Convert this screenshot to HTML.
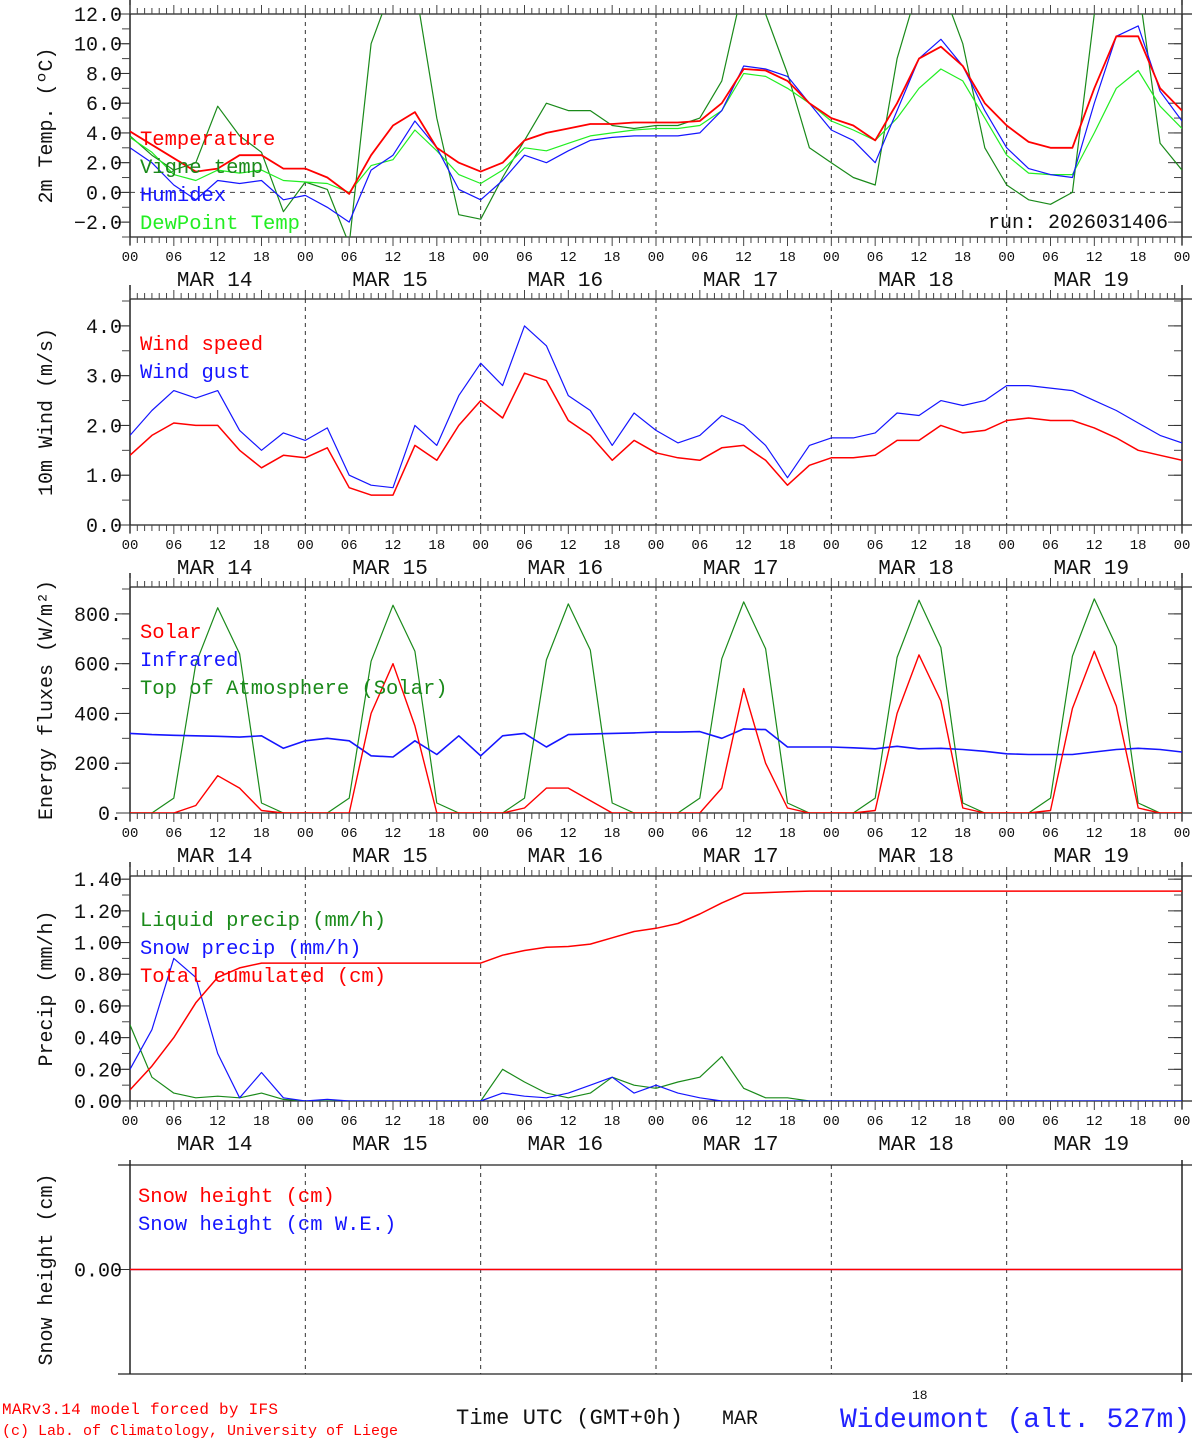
<!DOCTYPE html>
<html><head><meta charset="utf-8"><style>
html,body{margin:0;padding:0;background:#fff;}
svg text{font-family:"Liberation Mono","DejaVu Sans Mono",monospace;}
</style></head><body>
<svg id="chart" width="1194" height="1440" viewBox="0 0 1194 1440" xmlns="http://www.w3.org/2000/svg">
<text x="2" y="1414" font-size="16" fill="#f00" textLength="276">MARv3.14 model forced by IFS</text>
<text x="2" y="1435" font-size="15" fill="#f00" textLength="396">(c) Lab. of Climatology, University of Liege</text>
<text x="456" y="1424" font-size="22" fill="#111" textLength="227">Time UTC (GMT+0h)</text>
<text x="722" y="1424" font-size="20" fill="#111">MAR</text>
<text x="912" y="1399" font-size="13" fill="#111">18</text>
<text x="840" y="1427" font-size="28" fill="#22f" textLength="350">Wideumont (alt. 527m)</text>
</svg>
<script>
// ---------- data (3-hourly, hours 0..144 from MAR 14 00 UTC) ----------
const hours = Array.from({length:49},(_,i)=>i*3);
const dayLabels = ["MAR 14","MAR 15","MAR 16","MAR 17","MAR 18","MAR 19"];
const hourLabels = ["00","06","12","18"];
const temperature = [4.1,3.2,2.3,1.4,1.6,2.5,2.5,1.6,1.6,1.0,-0.1,2.5,4.5,5.4,3.0,2.0,1.4,2.0,3.5,4.0,4.3,4.6,4.6,4.7,4.7,4.7,4.8,6.0,8.3,8.2,7.5,6.0,5.0,4.5,3.5,6.0,9.0,9.8,8.5,6.0,4.5,3.4,3.0,3.0,7.0,10.5,10.5,7.0,5.5];
const vigneTemp = [3.8,2.5,1.5,2.0,5.8,3.8,2.7,-1.3,0.7,0.2,-3.5,10,14,14,5,-1.5,-1.8,1.0,3.5,6.0,5.5,5.5,4.5,4.3,4.5,4.5,5.0,7.5,14,12,8,3,2.0,1.0,0.5,9,14,14,10,3.0,0.5,-0.5,-0.8,0,12,14,14,3.3,1.5];
const humidex = [3.0,2.0,0.5,-0.5,0.8,0.6,0.8,-0.5,-0.2,-1.0,-2.0,1.5,2.5,4.8,3.0,0.2,-0.5,0.8,2.5,2.0,2.8,3.5,3.7,3.8,3.8,3.8,4.0,5.5,8.5,8.3,7.8,6.0,4.2,3.5,2.0,5.5,9.0,10.3,8.5,5.5,3.0,1.6,1.2,1.0,6.0,10.5,11.2,6.8,4.8];
const dewPoint = [3.7,2.7,1.2,0.8,1.5,1.3,1.5,0.8,0.7,0.6,0.0,1.8,2.2,4.2,2.8,1.2,0.6,1.5,3.0,2.8,3.3,3.8,4.0,4.2,4.3,4.3,4.5,5.5,8.0,7.8,7.0,6.0,4.8,4.2,3.5,5.0,7.0,8.3,7.5,5.0,2.5,1.3,1.2,1.2,4.0,7.0,8.2,5.8,4.3];
const windSpeed = [1.4,1.8,2.05,2.0,2.0,1.5,1.15,1.4,1.35,1.55,0.75,0.6,0.6,1.6,1.3,2.0,2.5,2.15,3.05,2.9,2.1,1.8,1.3,1.7,1.45,1.35,1.3,1.55,1.6,1.3,0.8,1.2,1.35,1.35,1.4,1.7,1.7,2.0,1.85,1.9,2.1,2.15,2.1,2.1,1.95,1.75,1.5,1.4,1.3];
const windGust = [1.8,2.3,2.7,2.55,2.7,1.9,1.5,1.85,1.7,1.95,1.0,0.8,0.75,2.0,1.6,2.6,3.25,2.8,4.0,3.6,2.6,2.3,1.6,2.25,1.9,1.65,1.8,2.2,2.0,1.6,0.95,1.6,1.75,1.75,1.85,2.25,2.2,2.5,2.4,2.5,2.8,2.8,2.75,2.7,2.5,2.3,2.05,1.8,1.65];
const solar = [0,0,0,30,150,100,10,0, 0,0,0,400,600,350,0,0, 0,0,20,100,100,50,0,0, 0,0,0,100,500,200,20,0, 0,0,10,400,635,450,20,0, 0,0,10,420,650,430,20,0, 0];
const infrared = [320,315,312,310,308,305,310,260,290,300,290,230,225,290,235,310,230,310,320,265,315,318,320,322,325,325,327,300,338,335,265,265,265,262,258,268,258,260,255,248,238,235,235,235,245,255,260,255,245];
const toaSolar = [0,0,60,600,825,640,40,0, 0,0,60,610,835,650,40,0, 0,0,60,615,840,655,40,0, 0,0,60,620,848,660,40,0, 0,0,60,625,855,665,40,0, 0,0,60,630,860,670,40,0, 0];
const liquidPrecip = [0.48,0.15,0.05,0.02,0.03,0.02,0.05,0.01,0,0,0,0,0,0,0,0,0,0.2,0.12,0.05,0.02,0.05,0.15,0.1,0.08,0.12,0.15,0.28,0.08,0.02,0.02,0,0,0,0,0,0,0,0,0,0,0,0,0,0,0,0,0,0];
const snowPrecip = [0.2,0.45,0.9,0.78,0.3,0.02,0.18,0.02,0,0.01,0,0,0,0,0,0,0,0.05,0.03,0.02,0.05,0.1,0.15,0.05,0.1,0.05,0.02,0,0,0,0,0,0,0,0,0,0,0,0,0,0,0,0,0,0,0,0,0,0];
const totalCum = [0.07,0.22,0.40,0.62,0.78,0.84,0.87,0.87,0.87,0.87,0.87,0.87,0.87,0.87,0.87,0.87,0.87,0.92,0.95,0.97,0.975,0.99,1.03,1.07,1.09,1.12,1.18,1.25,1.31,1.315,1.32,1.325,1.325,1.325,1.325,1.325,1.325,1.325,1.325,1.325,1.325,1.325,1.325,1.325,1.325,1.325,1.325,1.325,1.325];
const snowHeight = new Array(49).fill(0);
const snowWE = new Array(49).fill(0);

// ---------- drawing ----------
const NS="http://www.w3.org/2000/svg";
const svg=document.getElementById('chart');
const X0=130,X1=1182;
const xs=h=>X0+(X1-X0)*h/144;
function el(tag,attrs,parent){const e=document.createElementNS(NS,tag);for(const k in attrs)e.setAttribute(k,attrs[k]);(parent||svg).appendChild(e);return e;}

function panel(p){
  const g=el('g',{});
  
  
  const ys=v=>p.yb-(v-p.vmin)*(p.yb-p.yt)/(p.vmax-p.vmin);
  const cid='clip-'+p.name;
  const cp=el('clipPath',{id:cid},g);el('rect',{x:X0,y:p.yt,width:X1-X0,height:p.yb-p.yt},cp);
  for(let d=1;d<6;d++){const l=el('line',{x1:xs(d*24),x2:xs(d*24),y1:p.yt,y2:p.yb,stroke:'#333','stroke-dasharray':'4,4','stroke-width':1},g);
    }
  if(p.zero){const z=el('line',{x1:X0,x2:X1,y1:ys(0),y2:ys(0),stroke:'#444','stroke-dasharray':'5,5','stroke-width':1},g);
    }
  el('line',{x1:X0,x2:X0,y1:p.yt-(p.snow?5:14),y2:p.yb+(p.snow?0:8),stroke:'#222','stroke-width':1.5},g);
  el('line',{x1:X1,x2:X1,y1:p.yt-(p.snow?5:14),y2:p.yb+8,stroke:'#222','stroke-width':1.5},g);
  el('line',{x1:p.snow?118:X0,x2:X1+10,y1:p.yt,y2:p.yt,stroke:'#222','stroke-width':1.3},g);
  el('line',{x1:p.snow?118:X0,x2:X1+10,y1:p.yb,y2:p.yb,stroke:'#222','stroke-width':1.3},g);
  if(!p.snow){
    for(let h=0;h<=144;h++){
      const x=xs(h);const L=(h%6==0)?9:6;
      el('line',{x1:x,x2:x,y1:p.yt,y2:p.yt-L,stroke:'#444','stroke-width':1},g);
      el('line',{x1:x,x2:x,y1:p.yb,y2:p.yb+L,stroke:'#444','stroke-width':1},g);
    }
    for(let d=0;d<=6;d++){
      for(let k=0;k<4;k++){const h=d*24+k*6;if(h>144)break;
        const t=el('text',{x:xs(h),y:p.yb+24,'font-size':14,'text-anchor':'middle',fill:'#111'},g);t.textContent=hourLabels[k];
        }
    }
    dayLabels.forEach((s,d)=>{const t=el('text',{x:xs(d*24+12)-3,y:p.yb+49,'font-size':21,'text-anchor':'middle',fill:'#111'},g);t.textContent=s;
      });
  }
  p.minor.forEach(v=>{const y=ys(v);el('line',{x1:X0,x2:X0-8,y1:y,y2:y,stroke:'#444'},g);el('line',{x1:X1,x2:X1-8,y1:y,y2:y,stroke:'#444'},g);});
  p.major.forEach((v,i)=>{const y=ys(v);el('line',{x1:X0,x2:X0-14,y1:y,y2:y,stroke:'#333'},g);el('line',{x1:X1,x2:X1-14,y1:y,y2:y,stroke:'#333'},g);
    const t=el('text',{x:122,y:y+7,'font-size':20,'text-anchor':'end',fill:'#111'},g);t.textContent=p.labels[i];
    });
  const yt=el('text',{x:0,y:0,'font-size':20,'text-anchor':'middle',fill:'#111',transform:`translate(52,${(p.yt+p.yb)/2}) rotate(-90)`},g);
  yt.textContent=p.title;
  
  const sg=el('g',{'clip-path':`url(#${cid})`},g);
  p.series.forEach(s=>{
    const d=s.data.map((v,i)=>(i?'L':'M')+xs(hours[i]).toFixed(1)+','+ys(v).toFixed(1)).join(' ');
    const path=el('path',{d:d,fill:'none',stroke:s.color,'stroke-width':s.w||1.2,'stroke-linejoin':'round'},sg);
    
  });
  p.legend.forEach((l,i)=>{const t=el('text',{x:p.lx,y:p.ly+i*28,'font-size':20.5,fill:l[1]},g);t.textContent=l[0];
    });
  return ys;
}
const range=(a,b,s)=>{const r=[];for(let v=a;v<=b+1e-9;v+=s)r.push(+v.toFixed(3));return r;};

panel({name:'temperature-panel',yt:14,yb:237,vmin:-3,vmax:12,zero:true,
  major:range(-2,12,2),labels:['\u22122.0','0.0','2.0','4.0','6.0','8.0','10.0','12.0'],minor:range(-3,12,1),
  title:'2m Temp. (\u00baC)',lx:140,ly:145,
  series:[{name:'vigne-temp-line',data:vigneTemp,color:'#1a8a1a'},{name:'dewpoint-line',data:dewPoint,color:'#22ee22'},
          {name:'humidex-line',data:humidex,color:'#1515ff'},{name:'temperature-line',data:temperature,color:'#f00',w:1.8}],
  legend:[['Temperature','#f00'],['Vigne temp','#1a8a1a'],['Humidex','#1515ff'],['DewPoint Temp','#22ee22']]});
const rt=document.createElementNS(NS,'text');rt.setAttribute('x',1168);rt.setAttribute('y',228);rt.setAttribute('font-size',20);rt.setAttribute('text-anchor','end');rt.setAttribute('fill','#111');rt.textContent='run: 2026031406';


svg.appendChild(rt);

panel({name:'wind-panel',yt:299,yb:525,vmin:0,vmax:4.54,
  major:range(0,4,1),labels:['0.0','1.0','2.0','3.0','4.0'],minor:range(0,4.5,0.5),
  title:'10m Wind (m/s)',lx:140,ly:350,
  series:[{name:'wind-gust-line',data:windGust,color:'#1515ff'},{name:'wind-speed-line',data:windSpeed,color:'#f00',w:1.5}],
  legend:[['Wind speed','#f00'],['Wind gust','#1515ff']]});

panel({name:'energy-panel',yt:587,yb:813,vmin:0,vmax:908,
  major:range(0,800,200),labels:['0.','200.','400.','600.','800.'],minor:range(0,900,100),
  title:'Energy fluxes (W/m\u00b2)',lx:140,ly:638,
  series:[{name:'toa-solar-line',data:toaSolar,color:'#1a8a1a'},{name:'infrared-line',data:infrared,color:'#1515ff',w:1.6},{name:'solar-line',data:solar,color:'#f00',w:1.4}],
  legend:[['Solar','#f00'],['Infrared','#1515ff'],['Top of Atmosphere (Solar)','#1a8a1a']]});

panel({name:'precip-panel',yt:876,yb:1101,vmin:0,vmax:1.42,
  major:range(0,1.4,0.2),labels:['0.00','0.20','0.40','0.60','0.80','1.00','1.20','1.40'],minor:range(0,1.4,0.1),
  title:'Precip (mm/h)',lx:140,ly:926,
  series:[{name:'liquid-precip-line',data:liquidPrecip,color:'#1a8a1a'},{name:'snow-precip-line',data:snowPrecip,color:'#1515ff'},{name:'total-cumulated-line',data:totalCum,color:'#f00',w:1.5}],
  legend:[['Liquid precip (mm/h)','#1a8a1a'],['Snow precip (mm/h)','#1515ff'],['Total cumulated (cm)','#f00']]});

panel({name:'snow-panel',yt:1165,yb:1374,vmin:-1,vmax:1,snow:true,
  major:[0],labels:['0.00'],minor:[],
  title:'Snow height (cm)',lx:138,ly:1202,
  series:[{name:'snow-we-line',data:snowWE,color:'#1515ff'},{name:'snow-height-line',data:snowHeight,color:'#f00',w:1.5}],
  legend:[['Snow height (cm)','#f00'],['Snow height (cm W.E.)','#1515ff']]});
</script>
</body></html>
